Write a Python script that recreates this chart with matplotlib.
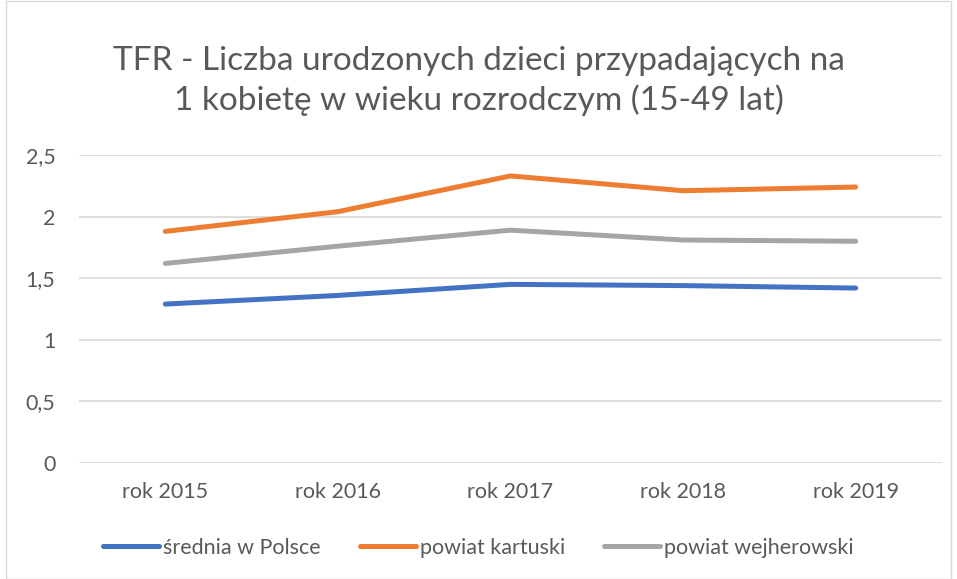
import matplotlib
matplotlib.use("Agg")
import matplotlib.pyplot as plt
from matplotlib.patches import Rectangle

years = ["rok 2015", "rok 2016", "rok 2017", "rok 2018", "rok 2019"]
srednia_polska = [1.29, 1.36, 1.45, 1.44, 1.42]
powiat_kartuski = [1.88, 2.04, 2.33, 2.21, 2.24]
powiat_wejherowski = [1.62, 1.76, 1.89, 1.81, 1.80]
series_names = ["średnia w Polsce", "powiat kartuski", "powiat wejherowski"]
yticks = [0, 0.5, 1, 1.5, 2, 2.5]
ytick_labels = ["0", "0,5", "1", "1,5", "2", "2,5"]
title = "TFR - Liczba urodzonych dzieci przypadających na\n1 kobietę w wieku rozrodczym (15-49 lat)"

plt.rcParams['font.family'] = ['Lato', 'DejaVu Sans']
txt = "#595959"

fig = plt.figure(figsize=(9.57, 5.79), dpi=100)
fig.patches.append(Rectangle((0.006, 0.0), 0.988, 0.998, transform=fig.transFigure,
                             fill=False, edgecolor="#d9d9d9", linewidth=1.0))
ax = fig.add_axes([79/957, 1 - 463/579, (942-79)/957, (463-155)/579])

x = list(range(len(years)))
colors = ["#4472c4", "#ed7d31", "#a5a5a5"]
for vals, c, n in zip([srednia_polska, powiat_kartuski, powiat_wejherowski], colors, series_names):
    ax.plot(x, vals, color=c, linewidth=3.6, solid_capstyle="round", solid_joinstyle="round", label=n)

ax.set_xlim(-0.5, len(years) - 0.5)
ax.set_ylim(0, 2.5)
ax.set_yticks(yticks)
ax.set_yticklabels(ytick_labels)
ax.set_xticks(x)
ax.set_xticklabels(years)
ax.grid(axis="y", color="#d9d9d9", linewidth=1.2)
ax.set_axisbelow(True)
for s in ["top", "right", "left", "bottom"]:
    ax.spines[s].set_visible(False)
ax.tick_params(axis="both", length=0, labelsize=15.5, colors=txt)
ax.tick_params(axis="x", pad=14)
ax.tick_params(axis="y", pad=17)

fig.text(0.5, 1 - 81/579, title, ha="center", va="center", fontsize=24, color=txt,
         linespacing=1.3)

leg = fig.legend(loc="center", bbox_to_anchor=(0.5, 1 - 548/579), ncol=3, frameon=False,
                 fontsize=15.5, handlelength=2.6, handletextpad=0.2, columnspacing=1.8)
for t in leg.get_texts():
    t.set_color(txt)

fig.savefig("out.png", dpi=100)
